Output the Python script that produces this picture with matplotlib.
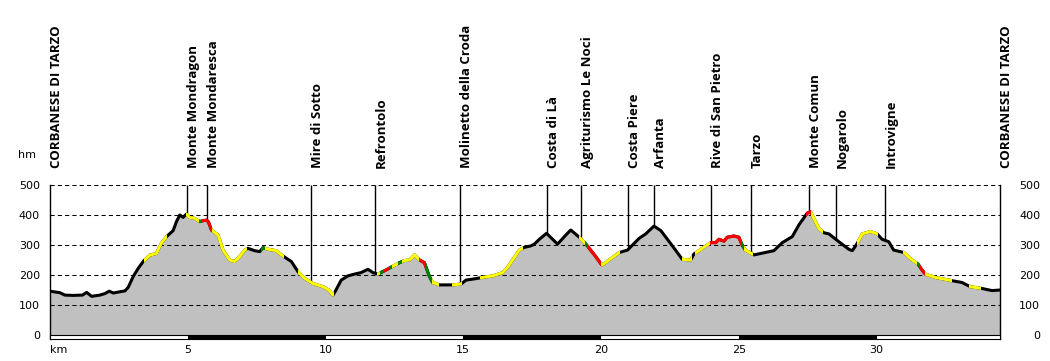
import matplotlib
matplotlib.use("Agg")
import matplotlib.pyplot as plt
from matplotlib.patches import Rectangle
import numpy as np

# track profile: distance (km) and altitude (m)
km = [0.0, 0.36, 0.54, 0.84, 1.18, 1.33, 1.51, 1.81, 1.99, 2.15, 2.30, 2.47, 2.72, 2.84,
      3.02, 3.20, 3.40, 3.62, 3.86, 4.04, 4.23, 4.47, 4.59, 4.71, 4.83, 4.95, 5.07, 5.25,
      5.43, 5.55, 5.68, 5.75, 5.86, 6.10, 6.28, 6.52, 6.70, 6.88, 7.06, 7.18, 7.43, 7.61,
      7.73, 7.91, 8.21, 8.46, 8.76, 9.00, 9.24, 9.54, 9.91, 10.12, 10.27, 10.35, 10.57,
      10.81, 11.05, 11.29, 11.54, 11.72, 11.90, 12.20, 12.38, 12.68, 12.86, 13.05, 13.23,
      13.41, 13.59, 13.77, 13.89, 14.13, 14.62, 14.92, 15.10, 15.46, 15.70, 16.07, 16.43,
      16.61, 16.79, 17.03, 17.21, 17.45, 17.58, 17.76, 18.02, 18.42, 18.72, 18.90, 19.21,
      19.45, 19.57, 19.81, 20.03, 20.29, 20.66, 20.96, 21.38, 21.62, 21.92, 22.17, 22.59,
      22.95, 23.25, 23.37, 23.68, 23.98, 24.16, 24.28, 24.46, 24.58, 24.82, 25.00, 25.12,
      25.24, 25.55, 25.97, 26.27, 26.58, 26.94, 27.18, 27.48, 27.60, 27.90, 28.08, 28.27,
      28.63, 28.99, 29.12, 29.30, 29.48, 29.78, 30.02, 30.20, 30.44, 30.62, 30.99, 31.29,
      31.51, 31.63, 31.77, 32.13, 32.74, 33.10, 33.40, 33.83, 34.19, 34.49]
elev = [147, 142, 134, 133, 134, 143, 130, 134, 139, 147, 141, 144, 148, 160,
        196, 223, 248, 267, 273, 307, 329, 349, 379, 401, 393, 404, 393, 390,
        379, 382, 384, 378, 351, 334, 284, 251, 246, 262, 284, 290, 282, 279,
        292, 287, 282, 264, 246, 212, 190, 173, 162, 151, 134, 146, 184,
        198, 204, 209, 220, 209, 204, 218, 227, 242, 249, 251, 268,
        251, 242, 196, 176, 168, 168, 171, 184, 189, 193, 198, 209,
        227, 251, 284, 293, 298, 304, 320, 340, 304, 334, 351, 327,
        304, 290, 262, 234, 251, 276, 284, 323, 338, 364, 349, 298,
        253, 251, 271, 290, 309, 309, 320, 314, 327, 331, 327, 301,
        284, 268, 276, 282, 309, 329, 368, 407, 412, 357, 342, 338,
        312, 287, 282, 307, 338, 346, 338, 320, 312, 284, 276, 251,
        237, 220, 204, 193, 182, 176, 162, 156, 149, 151]

# coloured stretches of the track (the rest is black)
seg_from = [3.40, 4.95, 5.40, 5.50, 5.87, 7.65, 7.80, 9.00, 11.85, 11.98, 12.10, 12.30,
            12.42, 12.62, 12.78, 13.41, 13.62, 13.87, 14.58, 15.60, 19.20, 19.40, 19.50,
            20.00, 22.95, 23.40, 23.95, 25.10, 25.20, 27.45, 27.62, 29.30, 30.95, 31.45,
            31.55, 31.75, 33.35]
seg_to = [4.25, 5.40, 5.50, 5.87, 7.15, 7.80, 8.50, 10.30, 11.98, 12.10, 12.30, 12.42,
          12.62, 12.78, 13.41, 13.62, 13.87, 14.12, 14.95, 17.18, 19.40, 19.50, 20.00,
          20.70, 23.30, 23.95, 25.10, 25.20, 25.50, 27.62, 28.05, 30.05, 31.45, 31.55,
          31.75, 32.75, 33.80]
seg_color = ["y", "y", "g", "r", "y", "g", "y", "y", "y", "g", "r", "g",
             "y", "g", "y", "r", "g", "y", "y", "y", "y", "g", "r",
             "y", "y", "y", "r", "g", "y", "r", "y", "y", "y", "g",
             "r", "y", "y"]
colors = {"y": "#ffff00", "r": "#ff0000", "g": "#008000"}

place_names = ["CORBANESE DI TARZO", "Monte Mondragon", "Monte Mondaresca", "Mire di Sotto",
               "Refrontolo", "Molinetto della Croda", "Costa di Là", "Agriturismo Le Noci",
               "Costa Piere", "Arfanta", "Rive di San Pietro", "Tarzo", "Monte Comun",
               "Nogarolo", "Introvigne", "CORBANESE DI TARZO"]
place_km = [0.0, 4.98, 5.70, 9.47, 11.78, 14.87, 18.02, 19.28, 20.98, 21.92, 24.0,
            25.44, 27.56, 28.53, 30.3, 34.49]

y_ticks = [0, 100, 200, 300, 400, 500]
x_ticks = [5, 10, 15, 20, 25, 30]
km_end = 34.49
bar_h = 13

fig = plt.figure(figsize=(10.5, 3.61), dpi=100)
ax = fig.add_axes([50 / 1050, 1 - 339.2 / 361, 950.3 / 1050, (339.2 - 185.3) / 361])
ax.set_xlim(0, km_end)
ax.set_ylim(-bar_h, 500)

ax.fill_between(km, elev, 0, color="#c0c0c0", lw=0, zorder=1)
for y in y_ticks[1:]:
    ax.axhline(y, color="black", lw=0.75, ls=(0, (4, 3)), zorder=2)

# marker lines down to the profile
inner_km = place_km[1:-1]
ax.vlines(inner_km, np.interp(inner_km, km, elev), 500, color="black", lw=1, zorder=3)

ax.plot(km, elev, color="black", lw=2.2, zorder=4)
for s, e, c in zip(seg_from, seg_to, seg_color):
    ln, = ax.plot(km, elev, color=colors[c], lw=2.2, zorder=5)
    ln.set_clip_path(Rectangle((s, -bar_h), e - s, 600, transform=ax.transData))

# km scale bar
ax.add_patch(Rectangle((0, -bar_h), km_end, bar_h, facecolor="white", edgecolor="black",
                       lw=0.8, zorder=6, clip_on=False))
for i in range(0, len(x_ticks) - 1, 2):
    ax.add_patch(Rectangle((x_ticks[i], -bar_h), x_ticks[i + 1] - x_ticks[i], bar_h,
                           facecolor="black", lw=0, zorder=7, clip_on=False))

for name, x in zip(place_names, place_km):
    ax.annotate(name, (x, 500), xytext=(0, 12.2), textcoords="offset points",
                rotation=90, ha="left", va="bottom", family="Open Sans",
                fontweight="bold", fontsize=9.5, annotation_clip=False)

for side in ["top", "bottom"]:
    ax.spines[side].set_visible(False)
ax.spines["left"].set_linewidth(1)
ax.spines["right"].set_linewidth(1)

ax.set_yticks(y_ticks, [str(v) for v in y_ticks])
ax.tick_params(axis="y", length=0, pad=7.2, labelsize=8)
ax.set_xticks([0] + x_ticks, ["km"] + [str(v) for v in x_ticks])
ax.tick_params(axis="x", length=0, pad=4, labelsize=8)
ax.get_xticklabels()[0].set_ha("left")

ax2 = ax.twinx()
ax2.set_ylim(ax.get_ylim())
ax2.set_yticks(y_ticks, [str(v) for v in y_ticks])
ax2.tick_params(axis="y", length=0, pad=28.8, labelsize=8)
for lbl in ax2.get_yticklabels():
    lbl.set_ha("right")
for sp in ax2.spines.values():
    sp.set_visible(False)

fig.text(18 / 1050, 1 - 155 / 361, "hm", va="center", ha="left", fontsize=8)

fig.savefig("out.png", dpi=100)
